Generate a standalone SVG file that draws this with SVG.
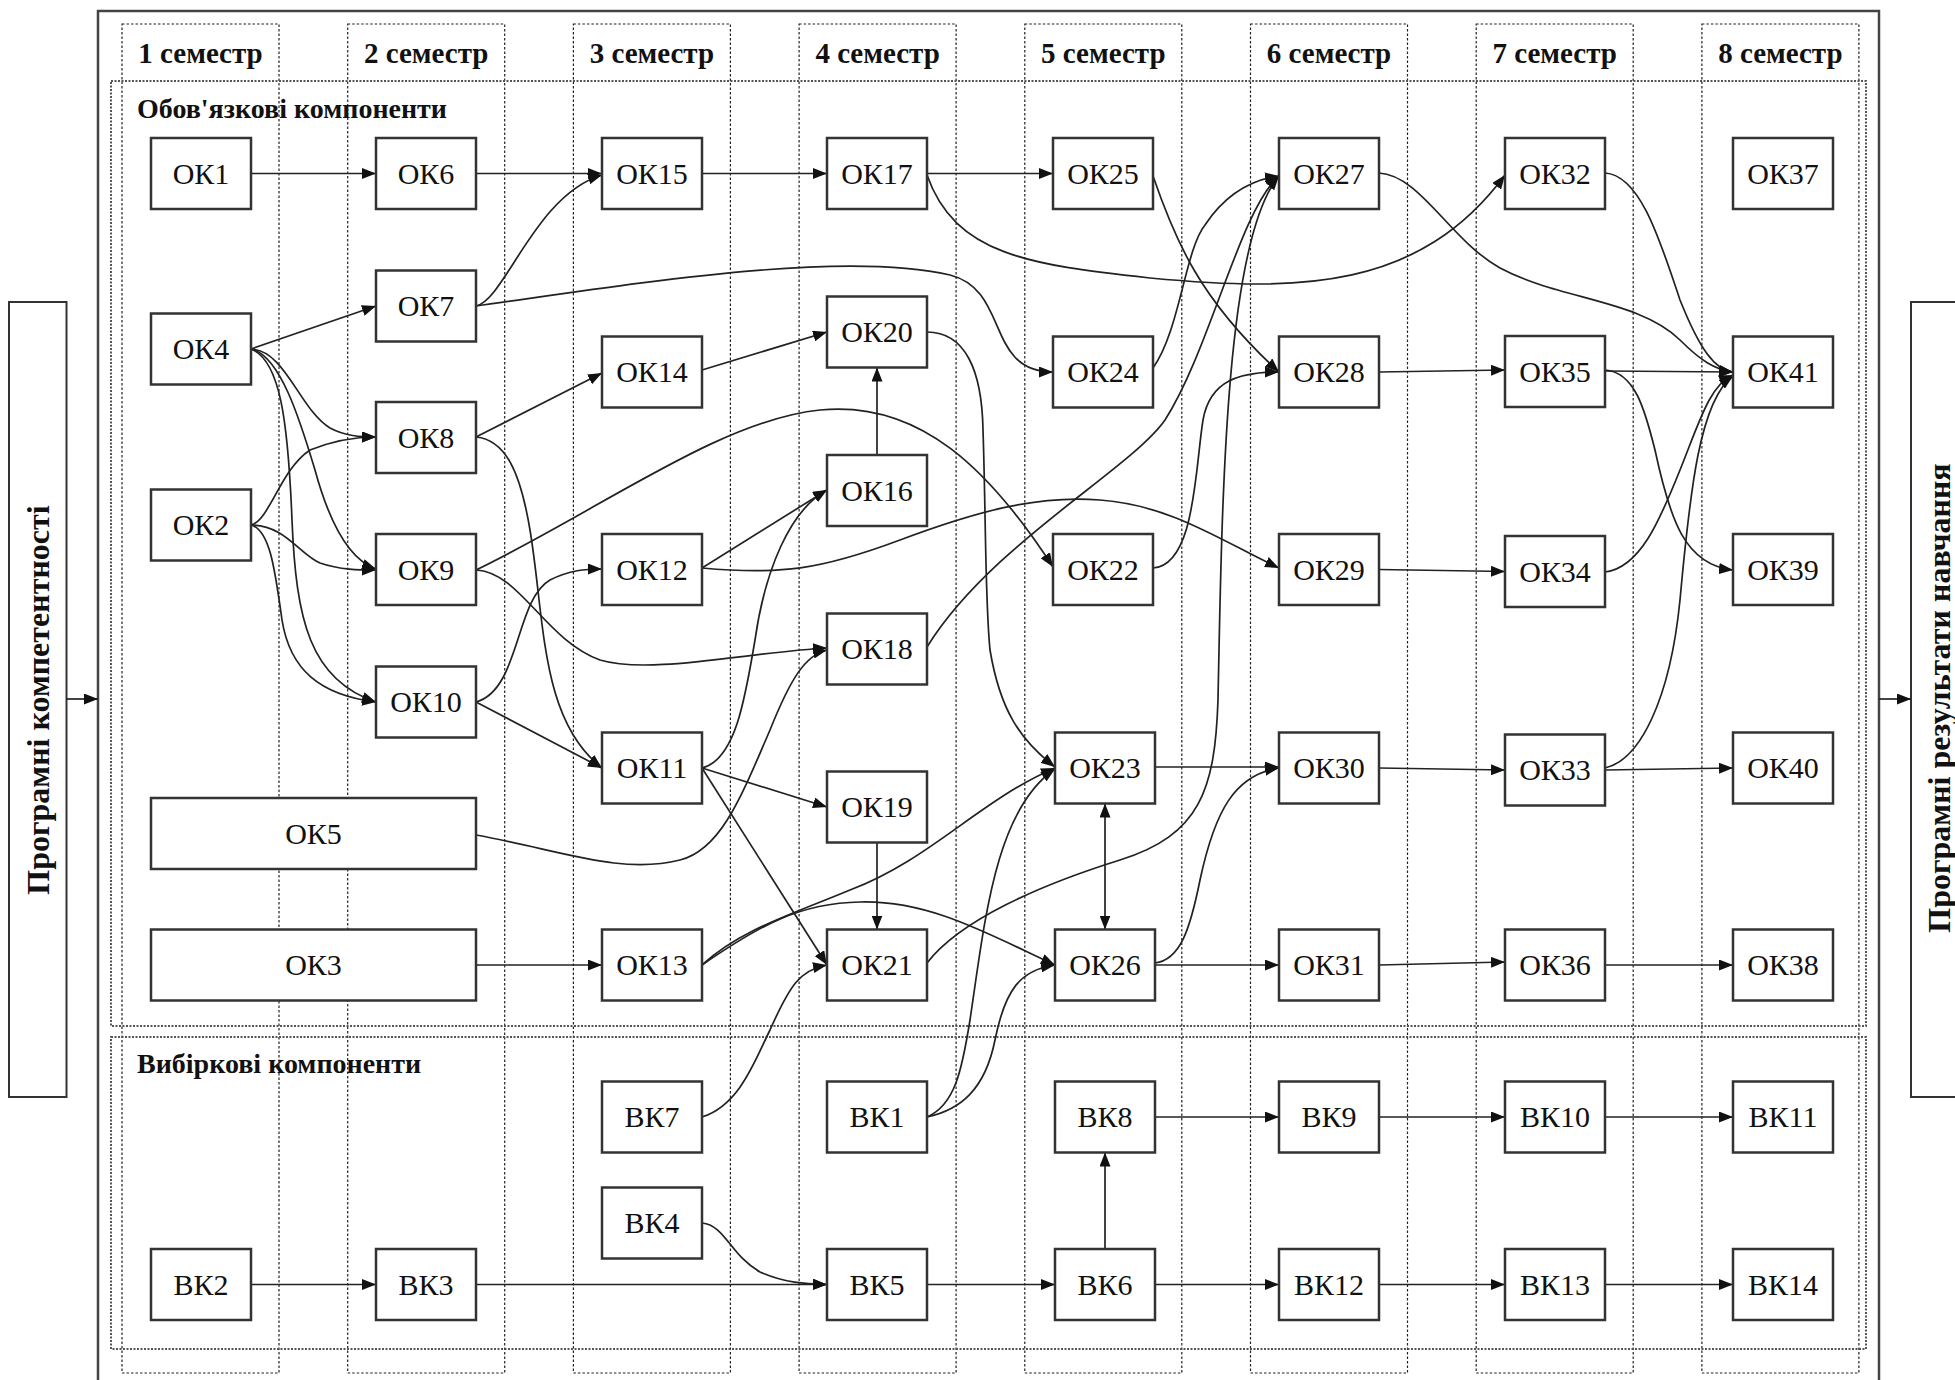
<svg xmlns="http://www.w3.org/2000/svg" width="1955" height="1380" viewBox="0 0 1955 1380">
<defs>
<style>
.frame{fill:none;stroke:#444;stroke-width:2.5}
.sem{fill:none;stroke:#222;stroke-width:1.2;stroke-dasharray:2.5,2}
.sec{fill:none;stroke:#555;stroke-width:2;stroke-dasharray:2,1.5}
.box{fill:#fff;stroke:#333;stroke-width:2.5}
.side{fill:#fff;stroke:#333;stroke-width:2}
.nt{font-family:"Liberation Serif","Times New Roman",serif;font-size:30px;fill:#111;text-anchor:middle}
.hd{font-family:"Liberation Serif","Times New Roman",serif;font-size:29px;font-weight:bold;fill:#111;text-anchor:middle}
.sl{font-family:"Liberation Serif","Times New Roman",serif;font-size:28px;font-weight:bold;fill:#111}
.vl{font-family:"Liberation Serif","Times New Roman",serif;font-size:32px;font-weight:bold;fill:#111;text-anchor:middle}
.c{fill:none;stroke:#222;stroke-width:1.7;marker-end:url(#ah)}
</style>
<marker id="ah" viewBox="0 0 14 11" refX="14" refY="5.5" markerWidth="14" markerHeight="11" orient="auto" markerUnits="userSpaceOnUse"><path d="M0,0 L14,5.5 L0,11 z" fill="#111"/></marker>
<marker id="ahs" viewBox="0 0 14 11" refX="14" refY="5.5" markerWidth="14" markerHeight="11" orient="auto-start-reverse" markerUnits="userSpaceOnUse"><path d="M0,0 L14,5.5 L0,11 z" fill="#111"/></marker>
</defs>
<rect width="1955" height="1380" fill="#fff"/>

<g id="frame">
<rect class="frame" x="98" y="11" width="1781" height="1400"/>
<rect class="sem" x="122" y="24" width="157" height="1349"/>
<rect class="sem" x="347.7" y="24" width="157" height="1349"/>
<rect class="sem" x="573.4" y="24" width="157" height="1349"/>
<rect class="sem" x="799.1" y="24" width="157" height="1349"/>
<rect class="sem" x="1024.8" y="24" width="157" height="1349"/>
<rect class="sem" x="1250.5" y="24" width="157" height="1349"/>
<rect class="sem" x="1476.2" y="24" width="157" height="1349"/>
<rect class="sem" x="1701.9" y="24" width="157" height="1349"/>
<text class="hd" x="200.5" y="63">1 семестр</text>
<text class="hd" x="426.2" y="63">2 семестр</text>
<text class="hd" x="651.9" y="63">3 семестр</text>
<text class="hd" x="877.6" y="63">4 семестр</text>
<text class="hd" x="1103.3" y="63">5 семестр</text>
<text class="hd" x="1329" y="63">6 семестр</text>
<text class="hd" x="1554.7" y="63">7 семестр</text>
<text class="hd" x="1780.4" y="63">8 семестр</text>
<rect class="sec" x="111" y="81" width="1755" height="945"/>
<text class="sl" x="137" y="118">Обов'язкові компоненти</text>
<rect class="sec" x="111" y="1037" width="1755" height="312"/>
<text class="sl" x="137" y="1073">Вибіркові компоненти</text>
</g>

<g id="input">
<rect class="side" x="9" y="302" width="57.5" height="795"/>
<text class="vl" transform="translate(49,700) rotate(-90)">Програмні компетентності</text>
</g>
<g id="output">
<rect class="side" x="1911" y="302" width="60" height="795"/>
<text class="vl" transform="translate(1950,698) rotate(-90)">Програмні результати навчання</text>
</g>

<g id="connectors">
<path class="c" d="M66.5,699 L98,699"/>
<path class="c" d="M1879,699 L1911,699"/>
<path class="c" d="M251,173.5 L376,173.5"/>
<path class="c" d="M476,173.5 L602,173.5"/>
<path class="c" d="M702,173.5 L827,173.5"/>
<path class="c" d="M927,173.5 L1053,173.5"/>
<path class="c" d="M251,349 L376,306"/>
<path class="c" d="M476,437 L602,373"/>
<path class="c" d="M702,370 L827,332"/>
<path class="c" d="M702,568 L827,490"/>
<path class="c" d="M476,702 L602,768"/>
<path class="c" d="M702,768 L827,807"/>
<path class="c" d="M702,768 L827,965"/>
<path class="c" d="M476,965 L602,965"/>
<path class="c" d="M877,455 L877,367.5"/>
<path class="c" d="M877,842.5 L877,929.5"/>
<path class="c" d="M1105,803.5 L1105,929.5" marker-start="url(#ahs)"/>
<path class="c" d="M1155,767 L1279,767"/>
<path class="c" d="M1155,965 L1279,965"/>
<path class="c" d="M1379,372 L1505,370"/>
<path class="c" d="M1605,371 L1733,372"/>
<path class="c" d="M1379,569.5 L1505,571.5"/>
<path class="c" d="M1379,768 L1505,770"/>
<path class="c" d="M1605,770 L1733,768"/>
<path class="c" d="M1379,965 L1505,962"/>
<path class="c" d="M1605,965 L1733,965"/>
<path class="c" d="M251,1284.5 L376,1284.5"/>
<path class="c" d="M476,1284.5 L827,1284.5"/>
<path class="c" d="M927,1284.5 L1055,1284.5"/>
<path class="c" d="M1105,1249 L1105,1152.5"/>
<path class="c" d="M1155,1284.5 L1279,1284.5"/>
<path class="c" d="M1379,1284.5 L1505,1284.5"/>
<path class="c" d="M1605,1284.5 L1733,1284.5"/>
<path class="c" d="M1155,1117 L1279,1117"/>
<path class="c" d="M1379,1117 L1505,1117"/>
<path class="c" d="M1605,1117 L1733,1117"/>
<path class="c" d="M476,306 C505,300 535,195 602,175"/>
<path class="c" d="M476,306 C640,283 840,250 950,275 C1010,290 985,372 1053,372"/>
<path class="c" d="M927,175 C955,255 1030,265 1150,278 C1300,292 1420,290 1505,175"/>
<path class="c" d="M1153,176 C1175,240 1200,300 1279,372"/>
<path class="c" d="M1153,368 C1180,330 1185,250 1205,225 C1225,195 1250,180 1279,176"/>
<path class="c" d="M927,647 C990,545 1130,470 1165,420 C1210,350 1240,210 1279,176"/>
<path class="c" d="M927,963 C960,920 1040,885 1120,860 C1200,835 1215,790 1218,700 C1222,500 1225,240 1279,176"/>
<path class="c" d="M927,332 C965,332 982,370 983,430 C986,520 985,600 990,650 C1000,710 1020,740 1055,767"/>
<path class="c" d="M476,570 C600,510 720,420 820,410 C920,400 990,470 1053,567"/>
<path class="c" d="M476,570 C520,572 545,640 600,660 C650,675 750,652 827,648"/>
<path class="c" d="M476,702 C520,690 515,600 550,580 C570,570 585,569 602,569"/>
<path class="c" d="M476,437 C505,440 520,470 530,530 C545,620 540,720 602,768"/>
<path class="c" d="M702,768 C735,760 745,700 755,640 C765,570 790,510 827,490"/>
<path class="c" d="M476,835 C560,850 620,875 680,860 C720,850 740,800 770,730 C790,680 805,655 827,650"/>
<path class="c" d="M702,568 C780,575 820,570 900,540 C980,510 1040,495 1100,500 C1170,505 1220,540 1279,568"/>
<path class="c" d="M1153,568 C1195,565 1195,470 1203,420 C1210,380 1240,372 1279,372"/>
<path class="c" d="M702,965 C740,930 790,915 850,890 C930,860 980,800 1055,768"/>
<path class="c" d="M702,965 C760,925 800,903 860,902 C930,900 990,935 1055,965"/>
<path class="c" d="M927,1117 C955,1105 962,1070 970,1020 C985,920 995,810 1055,769"/>
<path class="c" d="M927,1117 C960,1110 985,1090 995,1040 C1005,990 1020,970 1055,965"/>
<path class="c" d="M702,1117 C740,1105 755,1060 770,1030 C790,985 800,970 827,965"/>
<path class="c" d="M702,1223 C725,1225 730,1255 760,1272 C785,1283 805,1284 827,1284.5"/>
<path class="c" d="M1155,963 C1180,960 1190,930 1200,880 C1215,810 1235,775 1279,768"/>
<path class="c" d="M1379,173 C1420,175 1450,240 1500,268 C1560,300 1640,300 1680,340 C1700,360 1715,370 1733,372"/>
<path class="c" d="M1605,173 C1640,175 1660,240 1680,300 C1700,350 1715,370 1733,372"/>
<path class="c" d="M1605,370 C1635,372 1645,410 1655,450 C1670,520 1685,565 1733,570"/>
<path class="c" d="M1605,572 C1640,568 1660,520 1680,470 C1700,420 1710,385 1733,375"/>
<path class="c" d="M1605,768 C1640,760 1670,700 1680,600 C1690,490 1700,400 1733,376"/>
<path class="c" d="M251,349 C285,350 300,410 330,428 C345,436 360,437 376,437"/>
<path class="c" d="M251,349 C280,355 300,420 315,470 C330,525 350,560 376,569"/>
<path class="c" d="M251,349 C280,360 288,420 292,520 C296,620 310,680 376,702"/>
<path class="c" d="M251,525 C270,520 280,470 310,450 C335,440 355,437 376,437"/>
<path class="c" d="M251,525 C285,525 300,555 320,563 C340,570 360,570 376,570"/>
<path class="c" d="M251,525 C270,530 275,570 282,620 C290,670 320,695 376,702"/>
</g>

<g id="OK1"><rect class="box" x="151" y="138" width="100" height="71"/><text class="nt" x="201" y="183.5">ОК1</text></g>
<g id="OK4"><rect class="box" x="151" y="313.5" width="100" height="71"/><text class="nt" x="201" y="359">ОК4</text></g>
<g id="OK2"><rect class="box" x="151" y="489.5" width="100" height="71"/><text class="nt" x="201" y="535">ОК2</text></g>
<g id="OK5"><rect class="box" x="151" y="798" width="325" height="71"/><text class="nt" x="313.5" y="843.5">ОК5</text></g>
<g id="OK3"><rect class="box" x="151" y="929.5" width="325" height="71"/><text class="nt" x="313.5" y="975">ОК3</text></g>
<g id="OK6"><rect class="box" x="376" y="138" width="100" height="71"/><text class="nt" x="426" y="183.5">ОК6</text></g>
<g id="OK7"><rect class="box" x="376" y="270.5" width="100" height="71"/><text class="nt" x="426" y="316">ОК7</text></g>
<g id="OK8"><rect class="box" x="376" y="402" width="100" height="71"/><text class="nt" x="426" y="447.5">ОК8</text></g>
<g id="OK9"><rect class="box" x="376" y="534" width="100" height="71"/><text class="nt" x="426" y="579.5">ОК9</text></g>
<g id="OK10"><rect class="box" x="376" y="666.5" width="100" height="71"/><text class="nt" x="426" y="712">ОК10</text></g>
<g id="OK15"><rect class="box" x="602" y="138" width="100" height="71"/><text class="nt" x="652" y="183.5">ОК15</text></g>
<g id="OK14"><rect class="box" x="602" y="336.5" width="100" height="71"/><text class="nt" x="652" y="382">ОК14</text></g>
<g id="OK12"><rect class="box" x="602" y="534" width="100" height="71"/><text class="nt" x="652" y="579.5">ОК12</text></g>
<g id="OK11"><rect class="box" x="602" y="732.5" width="100" height="71"/><text class="nt" x="652" y="778">ОК11</text></g>
<g id="OK13"><rect class="box" x="602" y="929.5" width="100" height="71"/><text class="nt" x="652" y="975">ОК13</text></g>
<g id="OK17"><rect class="box" x="827" y="138" width="100" height="71"/><text class="nt" x="877" y="183.5">ОК17</text></g>
<g id="OK20"><rect class="box" x="827" y="296.5" width="100" height="71"/><text class="nt" x="877" y="342">ОК20</text></g>
<g id="OK16"><rect class="box" x="827" y="455" width="100" height="71"/><text class="nt" x="877" y="500.5">ОК16</text></g>
<g id="OK18"><rect class="box" x="827" y="613.5" width="100" height="71"/><text class="nt" x="877" y="659">ОК18</text></g>
<g id="OK19"><rect class="box" x="827" y="771.5" width="100" height="71"/><text class="nt" x="877" y="817">ОК19</text></g>
<g id="OK21"><rect class="box" x="827" y="929.5" width="100" height="71"/><text class="nt" x="877" y="975">ОК21</text></g>
<g id="OK25"><rect class="box" x="1053" y="138" width="100" height="71"/><text class="nt" x="1103" y="183.5">ОК25</text></g>
<g id="OK24"><rect class="box" x="1053" y="336.5" width="100" height="71"/><text class="nt" x="1103" y="382">ОК24</text></g>
<g id="OK22"><rect class="box" x="1053" y="534" width="100" height="71"/><text class="nt" x="1103" y="579.5">ОК22</text></g>
<g id="OK23"><rect class="box" x="1055" y="732.5" width="100" height="71"/><text class="nt" x="1105" y="778">ОК23</text></g>
<g id="OK26"><rect class="box" x="1055" y="929.5" width="100" height="71"/><text class="nt" x="1105" y="975">ОК26</text></g>
<g id="OK27"><rect class="box" x="1279" y="138" width="100" height="71"/><text class="nt" x="1329" y="183.5">ОК27</text></g>
<g id="OK28"><rect class="box" x="1279" y="336.5" width="100" height="71"/><text class="nt" x="1329" y="382">ОК28</text></g>
<g id="OK29"><rect class="box" x="1279" y="534" width="100" height="71"/><text class="nt" x="1329" y="579.5">ОК29</text></g>
<g id="OK30"><rect class="box" x="1279" y="732.5" width="100" height="71"/><text class="nt" x="1329" y="778">ОК30</text></g>
<g id="OK31"><rect class="box" x="1279" y="929.5" width="100" height="71"/><text class="nt" x="1329" y="975">ОК31</text></g>
<g id="OK32"><rect class="box" x="1505" y="138" width="100" height="71"/><text class="nt" x="1555" y="183.5">ОК32</text></g>
<g id="OK35"><rect class="box" x="1505" y="336" width="100" height="71"/><text class="nt" x="1555" y="381.5">ОК35</text></g>
<g id="OK34"><rect class="box" x="1505" y="536" width="100" height="71"/><text class="nt" x="1555" y="581.5">ОК34</text></g>
<g id="OK33"><rect class="box" x="1505" y="734.5" width="100" height="71"/><text class="nt" x="1555" y="780">ОК33</text></g>
<g id="OK36"><rect class="box" x="1505" y="929.5" width="100" height="71"/><text class="nt" x="1555" y="975">ОК36</text></g>
<g id="OK37"><rect class="box" x="1733" y="138" width="100" height="71"/><text class="nt" x="1783" y="183.5">ОК37</text></g>
<g id="OK41"><rect class="box" x="1733" y="336.5" width="100" height="71"/><text class="nt" x="1783" y="382">ОК41</text></g>
<g id="OK39"><rect class="box" x="1733" y="534" width="100" height="71"/><text class="nt" x="1783" y="579.5">ОК39</text></g>
<g id="OK40"><rect class="box" x="1733" y="732.5" width="100" height="71"/><text class="nt" x="1783" y="778">ОК40</text></g>
<g id="OK38"><rect class="box" x="1733" y="929.5" width="100" height="71"/><text class="nt" x="1783" y="975">ОК38</text></g>

<g id="VK7"><rect class="box" x="602" y="1081.5" width="100" height="71"/><text class="nt" x="652" y="1127">ВК7</text></g>
<g id="VK4"><rect class="box" x="602" y="1187.5" width="100" height="71"/><text class="nt" x="652" y="1233">ВК4</text></g>
<g id="VK1"><rect class="box" x="827" y="1081.5" width="100" height="71"/><text class="nt" x="877" y="1127">ВК1</text></g>
<g id="VK8"><rect class="box" x="1055" y="1081.5" width="100" height="71"/><text class="nt" x="1105" y="1127">ВК8</text></g>
<g id="VK9"><rect class="box" x="1279" y="1081.5" width="100" height="71"/><text class="nt" x="1329" y="1127">ВК9</text></g>
<g id="VK10"><rect class="box" x="1505" y="1081.5" width="100" height="71"/><text class="nt" x="1555" y="1127">ВК10</text></g>
<g id="VK11"><rect class="box" x="1733" y="1081.5" width="100" height="71"/><text class="nt" x="1783" y="1127">ВК11</text></g>
<g id="VK2"><rect class="box" x="151" y="1249" width="100" height="71"/><text class="nt" x="201" y="1294.5">ВК2</text></g>
<g id="VK3"><rect class="box" x="376" y="1249" width="100" height="71"/><text class="nt" x="426" y="1294.5">ВК3</text></g>
<g id="VK5"><rect class="box" x="827" y="1249" width="100" height="71"/><text class="nt" x="877" y="1294.5">ВК5</text></g>
<g id="VK6"><rect class="box" x="1055" y="1249" width="100" height="71"/><text class="nt" x="1105" y="1294.5">ВК6</text></g>
<g id="VK12"><rect class="box" x="1279" y="1249" width="100" height="71"/><text class="nt" x="1329" y="1294.5">ВК12</text></g>
<g id="VK13"><rect class="box" x="1505" y="1249" width="100" height="71"/><text class="nt" x="1555" y="1294.5">ВК13</text></g>
<g id="VK14"><rect class="box" x="1733" y="1249" width="100" height="71"/><text class="nt" x="1783" y="1294.5">ВК14</text></g>
</svg>
